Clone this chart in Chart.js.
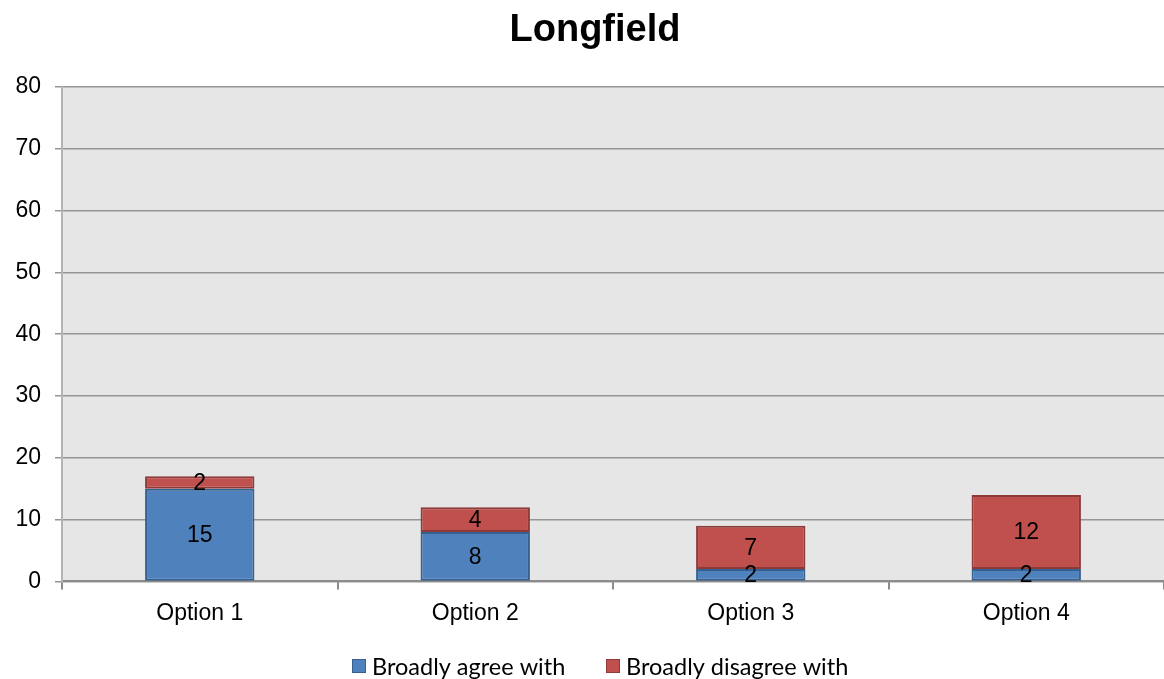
<!DOCTYPE html>
<html>
<head>
<meta charset="utf-8">
<script src="https://cdn.jsdelivr.net/npm/chart.js@4/dist/chart.umd.min.js"></script>
<style>
  html, body { margin: 0; padding: 0; background: #ffffff; overflow: hidden; }
  #wrap { width: 1164px; height: 679px; }
</style>
</head>
<body>
<div id="wrap"><canvas id="c" width="1164" height="679"></canvas></div>
<script>
const chartTitle = 'Longfield';
const categories = ['Option 1', 'Option 2', 'Option 3', 'Option 4'];
const agreeValues = [15, 8, 2, 2];
const disagreeValues = [2, 4, 7, 12];
const seriesNames = ['Broadly agree with', 'Broadly disagree with'];
const yTicks = [0, 10, 20, 30, 40, 50, 60, 70, 80];

const AXIS_FONT = '"Liberation Sans", Arial, sans-serif';
const LEGEND_FONT = '23.5px Lato, "Liberation Sans", sans-serif';

// Grey plot background behind the bars
const plotBackground = {
  id: 'plotBackground',
  beforeDraw(chart) {
    const { ctx, chartArea: a } = chart;
    ctx.save();
    ctx.fillStyle = '#e6e6e6';
    ctx.fillRect(a.left, a.top, a.right - a.left, a.bottom - a.top);
    ctx.restore();
  }
};

// Title above the plot and a single-row legend below the axis
const titleAndLegend = {
  id: 'titleAndLegend',
  afterDraw(chart) {
    const { ctx } = chart;
    ctx.save();
    ctx.font = 'bold 38px ' + AXIS_FONT;
    ctx.fillStyle = '#000000';
    ctx.textAlign = 'center';
    ctx.textBaseline = 'middle';
    ctx.fillText(chartTitle, 595, 31);

    const legendY = 666;
    const starts = [352, 606];
    ctx.font = LEGEND_FONT;
    ctx.textAlign = 'left';
    chart.data.datasets.forEach((ds, i) => {
      const x = starts[i];
      ctx.fillStyle = ds.backgroundColor;
      ctx.fillRect(x, legendY - 7, 14, 14);
      ctx.strokeStyle = ds.borderColor;
      ctx.lineWidth = 1;
      ctx.strokeRect(x + 0.5, legendY - 6.5, 13, 13);
      ctx.fillStyle = '#000000';
      ctx.fillText(ds.label, x + 20, legendY + 1);
    });
    ctx.restore();
  }
};

// Value labels centred in each stacked segment
const segmentLabels = {
  id: 'segmentLabels',
  afterDatasetsDraw(chart) {
    const { ctx } = chart;
    ctx.save();
    ctx.font = '23px ' + AXIS_FONT;
    ctx.fillStyle = '#000000';
    ctx.textAlign = 'center';
    ctx.textBaseline = 'middle';
    chart.data.datasets.forEach((ds, di) => {
      const meta = chart.getDatasetMeta(di);
      meta.data.forEach((bar, i) => {
        const v = ds.data[i];
        if (v == null) return;
        const y = (bar.y + bar.base) / 2;
        ctx.fillText(String(v), bar.x, y + 1);
      });
    });
    ctx.restore();
  }
};

new Chart(document.getElementById('c'), {
  type: 'bar',
  data: {
    labels: categories,
    datasets: [
      {
        label: seriesNames[0],
        data: agreeValues,
        backgroundColor: '#4f81bd',
        borderColor: '#36608f',
        borderWidth: 2,
        borderSkipped: false,
        barPercentage: 0.397,
        categoryPercentage: 1
      },
      {
        label: seriesNames[1],
        data: disagreeValues,
        backgroundColor: '#c0504d',
        borderColor: '#8e3a38',
        borderWidth: 2,
        borderSkipped: false,
        barPercentage: 0.397,
        categoryPercentage: 1
      }
    ]
  },
  options: {
    responsive: false,
    animation: false,
    events: [],
    layout: { padding: { top: 87, right: -5, left: 0, bottom: 42 } },
    plugins: {
      title: { display: false },
      tooltip: { enabled: false },
      legend: { display: false }
    },
    scales: {
      x: {
        stacked: true,
        grid: {
          display: true,
          offset: true,
          drawOnChartArea: false,
          drawTicks: true,
          tickLength: 8,
          color: '#8c8c8c',
          lineWidth: 2
        },
        border: { display: true, color: '#8c8c8c', width: 2 },
        ticks: {
          font: { family: AXIS_FONT, size: 23 },
          color: '#000000',
          padding: 10
        }
      },
      y: {
        stacked: true,
        min: 0,
        max: 80,
        afterBuildTicks(scale) {
          scale.ticks = yTicks.map(v => ({ value: v }));
        },
        afterFit(scale) { scale.width = 62; },
        grid: {
          color: '#959595',
          lineWidth: 1.5,
          tickLength: 7,
          drawTicks: true
        },
        border: { display: true, color: '#b4b4b4', width: 2 },
        ticks: {
          font: { family: AXIS_FONT, size: 23 },
          color: '#000000',
          padding: 14
        }
      }
    }
  },
  plugins: [plotBackground, segmentLabels, titleAndLegend]
});
</script>
</body>
</html>
